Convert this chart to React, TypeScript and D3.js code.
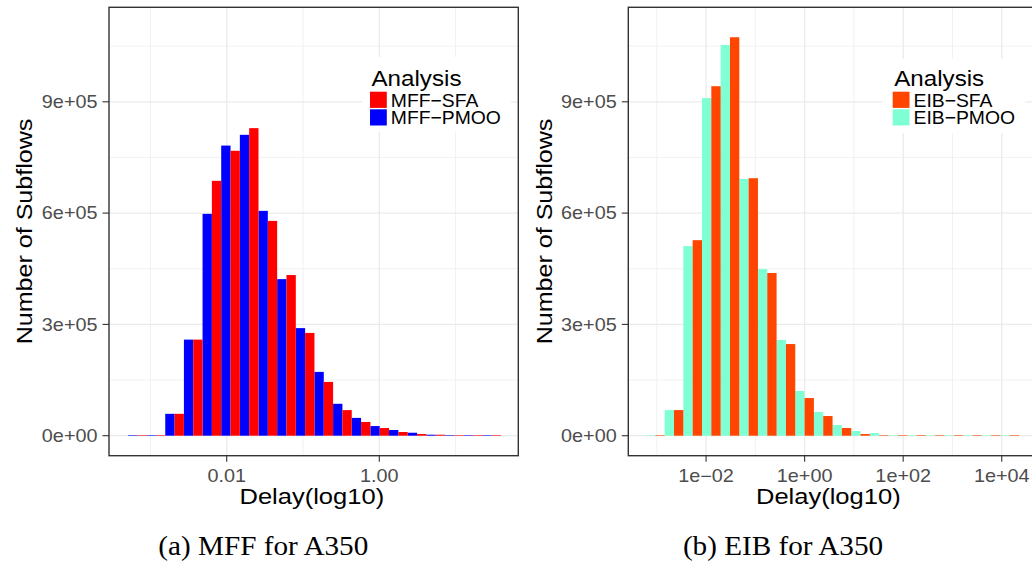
import React from "react";
import * as d3 from "d3";

// ---------- data ----------
// Histogram bins are in log10(Delay) units
const MFF_BIN_START = -3.294;
const MFF_BIN_WIDTH = 0.2444;
const EIB_BIN_START = -3.218;
const EIB_BIN_WIDTH = 0.3785;

const mffPMOO = [1500, 1500, 59000, 259000, 598000, 782000, 811000, 606000, 422000, 290000, 172000, 86000, 48000, 26000, 15300, 8000, 2700, 1500, 1500, 1500];
const mffSFA = [1500, 1500, 59000, 259000, 687000, 768000, 829000, 579000, 433000, 277000, 145000, 69000, 37000, 20700, 9900, 4500, 2700, 1500, 1500, 1500];

const eibPMOO = [1500, 69000, 511000, 910000, 1053000, 692000, 449000, 258000, 120500, 63800, 28800, 12600, 7200, 1500, 1500, 1500, 1500, 1500, 1500, 1500];
const eibSFA = [1500, 69000, 527000, 942000, 1074000, 694000, 438500, 247000, 101500, 53000, 20700, 4500, 1500, 1500, 1500, 1500, 1500, 1500, 1500, 1500];

const yTicks = [0, 300000, 600000, 900000];
const yMinor = [150000, 450000, 750000, 1050000];

const mffXTicks = [-2, 0];
const mffXMinor = [-3, -1, 1];
const eibXTicks = [-2, 0, 2, 4];
const eibXMinor = [-3, -1, 1, 3];

const mffLegend = ["MFF\u2212SFA", "MFF\u2212PMOO"];
const eibLegend = ["EIB\u2212SFA", "EIB\u2212PMOO"];
const legendTitle = "Analysis";
const yTitle = "Number of Subflows";
const xTitle = "Delay(log10)";
const captions = ["(a) MFF for A350", "(b) EIB for A350"];

// ---------- style ----------
const SANS = "'Liberation Sans', Arial, Helvetica, sans-serif";
const SERIF = "'Liberation Serif', 'Times New Roman', serif";
const GRID = "#ebebeb";
const DARK = "#333333";
const TICKTXT = "#4d4d4d";

const PANEL_TOP = 7.3;
const PANEL_BOTTOM = 455.7;

const yScale = d3.scaleLinear().domain([-53900, 1154700]).range([PANEL_BOTTOM, PANEL_TOP]);

function fmtSci(v: number): string {
  const s = v.toExponential(0); // e.g. 9e+5
  const m = s.match(/^(-?\d)e([+-])(\d+)$/);
  if (!m) return s;
  const exp = m[3].padStart(2, "0");
  return `${m[1]}e${m[2] === "-" ? "\u2212" : "+"}${exp}`;
}

function fmtDec(t: number): string {
  return d3.format(".2f")(Math.pow(10, t));
}

function fmtLogSci(t: number): string {
  return fmtSci(Math.pow(10, t));
}

type PanelProps = {
  x0: number;
  x1: number;
  domain: [number, number];
  binStart: number;
  binWidth: number;
  first: number[];
  second: number[];
  colors: [string, string]; // [SFA, PMOO]
  majorX: number[];
  minorX: number[];
  fmtX: (t: number) => string;
  legendLabels: string[];
  legendKeyX: number;
  legendBox: [number, number, number, number];
  yTitleX: number;
  yLabelRight: number;
  xTitleCx: number;
  captionCx: number;
  caption: string;
};

function Panel(p: PanelProps) {
  const x = d3.scaleLinear().domain(p.domain).range([p.x0, p.x1]);
  const y0 = yScale(0);
  const [sfaColor, pmooColor] = p.colors;
  const cy = (PANEL_TOP + PANEL_BOTTOM) / 2;
  return (
    <g>
      {/* grid */}
      {yMinor.map((v) => (
        <line key={"ym" + v} x1={p.x0} x2={p.x1} y1={yScale(v)} y2={yScale(v)} stroke={GRID} strokeWidth={0.7} />
      ))}
      {p.minorX.map((t) => (
        <line key={"xm" + t} x1={x(t)} x2={x(t)} y1={PANEL_TOP} y2={PANEL_BOTTOM} stroke={GRID} strokeWidth={0.7} />
      ))}
      {yTicks.map((v) => (
        <line key={"yM" + v} x1={p.x0} x2={p.x1} y1={yScale(v)} y2={yScale(v)} stroke={GRID} strokeWidth={1.3} />
      ))}
      {p.majorX.map((t) => (
        <line key={"xM" + t} x1={x(t)} x2={x(t)} y1={PANEL_TOP} y2={PANEL_BOTTOM} stroke={GRID} strokeWidth={1.3} />
      ))}
      {/* bars (dodged: PMOO left half, SFA right half) */}
      {p.first.map((v, i) => {
        const e0 = p.binStart + i * p.binWidth;
        const mid = e0 + p.binWidth / 2;
        return (
          <rect key={"a" + i} x={x(e0)} width={x(mid) - x(e0)} y={yScale(v)} height={y0 - yScale(v)} fill={pmooColor} />
        );
      })}
      {p.second.map((v, i) => {
        const e0 = p.binStart + i * p.binWidth;
        const mid = e0 + p.binWidth / 2;
        const e1 = e0 + p.binWidth;
        return (
          <rect key={"b" + i} x={x(mid)} width={x(e1) - x(mid)} y={yScale(v)} height={y0 - yScale(v)} fill={sfaColor} />
        );
      })}
      {/* legend */}
      <rect x={p.legendBox[0]} y={p.legendBox[1]} width={p.legendBox[2]} height={p.legendBox[3]} fill="#ffffff" />
      <text
        transform={`translate(${p.legendKeyX + 1.5},85.7) scale(1.06,1)`}
        fontFamily={SANS}
        fontSize={22.8}
        fill="#000"
      >
        {legendTitle}
      </text>
      {p.legendLabels.map((lab, i) => (
        <g key={lab}>
          <rect x={p.legendKeyX} y={91.7 + i * 17.6} width={16.8} height={16.2} fill={i === 0 ? sfaColor : pmooColor} />
          <text
            transform={`translate(${p.legendKeyX + 20.8},${106.7 + i * 17.4}) scale(1.04,1)`}
            fontFamily={SANS}
            fontSize={18.6}
            fill="#000"
          >
            {lab}
          </text>
        </g>
      ))}
      {/* border */}
      <rect x={p.x0} y={PANEL_TOP} width={p.x1 - p.x0} height={PANEL_BOTTOM - PANEL_TOP} fill="none" stroke={DARK} strokeWidth={1.4} />
      {/* y axis */}
      {yTicks.map((v) => (
        <g key={"yt" + v}>
          <line x1={p.x0 - 6.5} x2={p.x0} y1={yScale(v)} y2={yScale(v)} stroke={DARK} strokeWidth={1.1} />
          <text
            transform={`translate(${p.yLabelRight},${yScale(v) + 6.4}) scale(1.12,1)`}
            textAnchor="end"
            fontFamily={SANS}
            fontSize={17.7}
            fill={TICKTXT}
          >
            {fmtSci(v)}
          </text>
        </g>
      ))}
      {/* x axis */}
      {p.majorX.map((t) => (
        <g key={"xt" + t}>
          <line x1={x(t)} x2={x(t)} y1={PANEL_BOTTOM} y2={PANEL_BOTTOM + 6} stroke={DARK} strokeWidth={1.1} />
          <text
            transform={`translate(${x(t)},481.7) scale(1.12,1)`}
            textAnchor="middle"
            fontFamily={SANS}
            fontSize={17.7}
            fill={TICKTXT}
          >
            {p.fmtX(t)}
          </text>
        </g>
      ))}
      <text
        transform={`translate(${p.xTitleCx},504) scale(1.12,1)`}
        textAnchor="middle"
        fontFamily={SANS}
        fontSize={22.8}
        fill="#000"
      >
        {xTitle}
      </text>
      <text
        transform={`translate(${p.yTitleX},${cy}) rotate(-90) scale(1.1,1)`}
        textAnchor="middle"
        fontFamily={SANS}
        fontSize={22.8}
        fill="#000"
      >
        {yTitle}
      </text>
      <text
        transform={`translate(${p.captionCx},555) scale(1.05,1)`}
        textAnchor="middle"
        fontFamily={SERIF}
        fontSize={27.8}
        fill="#000"
      >
        {p.caption}
      </text>
    </g>
  );
}

export default function App() {
  return (
    <svg
      width={1032}
      height={566}
      viewBox="0 0 1032 566"
      style={{ position: "absolute", left: 0, top: 0, background: "#fff" }}
    >
      <rect x={0} y={0} width={1032} height={566} fill="#fff" />
      <Panel
        x0={109}
        x1={518.3}
        domain={[-3.5426, 1.8217]}
        binStart={MFF_BIN_START}
        binWidth={MFF_BIN_WIDTH}
        first={mffPMOO}
        second={mffSFA}
        colors={["#ff0000", "#0000ff"]}
        majorX={mffXTicks}
        minorX={mffXMinor}
        fmtX={fmtDec}
        legendLabels={mffLegend}
        legendKeyX={370}
        legendBox={[362, 57, 149, 75]}
        yTitleX={32.3}
        yLabelRight={97.5}
        xTitleCx={311.8}
        captionCx={263.3}
        caption={captions[0]}
      />
      <Panel
        x0={628.3}
        x1={1038.6}
        domain={[-3.578, 4.748]}
        binStart={EIB_BIN_START}
        binWidth={EIB_BIN_WIDTH}
        first={eibPMOO}
        second={eibSFA}
        colors={["#ff4500", "#7fffd4"]}
        majorX={eibXTicks}
        minorX={eibXMinor}
        fmtX={fmtLogSci}
        legendLabels={eibLegend}
        legendKeyX={892.7}
        legendBox={[883, 59, 142, 74]}
        yTitleX={552.3}
        yLabelRight={616.7}
        xTitleCx={828.3}
        captionCx={783}
        caption={captions[1]}
      />
    </svg>
  );
}
